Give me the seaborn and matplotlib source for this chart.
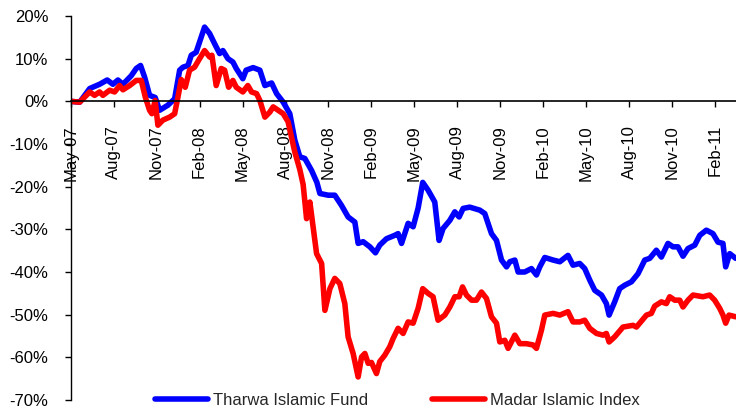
import matplotlib
matplotlib.use("Agg")
import matplotlib.pyplot as plt
import matplotlib.ticker as ticker
import seaborn as sns

# months counted from May-07, values in percent
fund_months = [0, 0.63, 1.33, 2.02, 2.55, 2.95, 3.30, 3.65, 4.23, 4.58, 4.88, 5.16, 5.51, 5.90,
               6.21, 6.79, 7.26, 7.61, 7.84, 8.19, 8.42, 8.76, 9.00, 9.35, 9.70, 10.05, 10.40,
               10.63, 10.98, 11.33, 11.56, 12.02, 12.25, 12.74, 13.21, 13.56, 14.03, 14.38,
               14.84, 15.30, 15.65, 16.00, 16.35, 16.82, 17.19, 17.40, 17.98, 18.44, 18.91,
               19.37, 19.84, 20.07, 20.42, 20.89, 21.28, 21.58, 22.05, 22.63, 22.86, 23.10,
               23.56, 23.91, 24.26, 24.58, 24.95, 25.42, 25.72, 26.00, 26.47, 26.82, 27.12,
               27.40, 27.86, 28.56, 28.91, 29.38, 29.73, 30.08, 30.43, 30.66, 31.01, 31.24,
               31.70, 32.17, 32.52, 32.75, 33.10, 33.68, 34.15, 34.72, 35.07, 35.54, 35.89,
               36.24, 36.59, 37.06, 37.40, 37.59, 37.98, 38.33, 38.68, 39.15, 39.61, 40.08,
               40.43, 40.89, 41.24, 41.70, 42.05, 42.40, 42.75, 43.10, 43.57, 43.92, 44.38,
               44.84, 45.19, 45.54, 45.73, 46.01, 46.43]
fund = [0, -0.2, 3, 4, 5, 4, 5, 4, 6, 7.7, 8.4, 5.7, 1.4, 0.9,
        -2.1, -0.9, 0.6, 7.3, 8, 8.4, 10.8, 11.5, 13.9, 17.4, 15.9, 13.5, 11.2,
        11.9, 10, 9.2, 7.7, 5.3, 7.3, 7.9, 7.3, 3.7, 4.3, 1.8,
        -0.2, -2.9, -9.1, -13, -13.4, -16.2, -19, -21.6, -22, -22, -24.4,
        -27.1, -28.3, -33.3, -32.9, -34.1, -35.5, -33.7, -32.2, -31.4, -31, -33.3,
        -28.6, -29.4, -25, -19, -20.8, -23.6, -32.6, -29.8, -27.9, -25.9, -27.1,
        -25.1, -24.8, -25.5, -26.3, -31, -32.6, -37.2, -38.8, -37.6, -37.2, -40,
        -40, -39.2, -40.7, -38.8, -36.6, -37.2, -37.6, -36.1, -38.4, -38, -39.2,
        -41.9, -44.3, -45.4, -47.4, -50.1, -47, -43.9, -43.1, -42.3, -40.4, -37.2,
        -36.8, -34.9, -36.5, -33.3, -34.1, -34.1, -36.3, -34.5, -33.7, -31.4, -30.2,
        -31, -33, -33.3, -38.8, -35.7, -36.8]

index_months = [0, 0.63, 1.33, 1.67, 2.02, 2.25, 2.72, 3.07, 3.42, 3.65, 4.12, 4.58, 4.93, 5.21,
                5.51, 5.67, 5.90, 6.09, 6.44, 6.91, 7.26, 7.49, 7.72, 8.00, 8.30, 8.65, 9.00,
                9.35, 9.70, 9.86, 10.16, 10.51, 10.75, 11.03, 11.33, 11.56, 12.02, 12.37, 12.63,
                12.98, 13.21, 13.56, 13.91, 14.14, 14.49, 14.84, 15.18, 15.42, 15.65, 16.00,
                16.23, 16.47, 16.70, 17.17, 17.52, 17.75, 18.10, 18.44, 18.79, 19.14, 19.37,
                19.72, 20.07, 20.31, 20.54, 20.77, 21.00, 21.35, 21.58, 21.93, 22.28, 22.51,
                22.86, 23.21, 23.56, 23.91, 24.26, 24.58, 24.95, 25.30, 25.65, 26.12, 26.47,
                26.82, 27.12, 27.36, 27.63, 27.99, 28.33, 28.68, 29.03, 29.38, 29.73, 29.96,
                30.31, 30.54, 31.01, 31.36, 31.82, 32.28, 32.52, 32.87, 33.10, 33.68, 34.15,
                34.72, 35.07, 35.54, 35.89, 36.24, 36.71, 37.17, 37.40, 37.59, 37.98, 38.56,
                39.26, 39.50, 40.20, 40.54, 40.77, 41.24, 41.59, 41.82, 42.17, 42.52, 42.75,
                43.10, 43.45, 44.14, 44.61, 44.96, 45.31, 45.54, 45.73, 45.96, 46.43]
index_vals = [0, -0.2, 2.2, 1.4, 2.2, 1.4, 2.6, 2.2, 3.7, 2.7, 3.7, 4.9, 4.9, 1,
              -2.1, -2.9, 0.2, -5.6, -4.4, -3.7, -2.9, 1, 5.1, 3.3, 7.3, 8, 10,
              11.9, 10.4, 10.8, 3.7, 7.7, 7.3, 3.3, 4.9, 3.3, 2.2, 3.7, 2.2,
              1.8, 0.2, -3.7, -2.5, -1.3, -2.1, -2.9, -4.8, -8.4, -11.9, -16,
              -19.5, -27.5, -23.6, -35.7, -38, -49, -43.9, -41.5, -42.7, -47.4, -55.2,
              -59.1, -64.6, -59.9, -59.1, -61.4, -61.2, -63.8, -61, -59.5, -57.5, -55.6,
              -53.2, -54.4, -51.7, -52, -48.5, -43.9, -45, -45.8, -51.3, -50.1, -48.2,
              -45.8, -45.8, -43.5, -45.4, -46.6, -46.6, -44.7, -46.2, -50.5, -52, -56.4,
              -56, -57.9, -54.8, -56.8, -56.8, -57.1, -57.9, -53.6, -50.1, -49.7, -50.1,
              -49.3, -51.7, -51.7, -51.3, -53.2, -54.4, -54.8, -54.4, -56.4, -55.2, -52.9,
              -52.5, -52.9, -50.1, -49.7, -48, -47, -47.4, -45.8, -46.6, -46.6, -48.2,
              -46.6, -45.4, -45.8, -45.4, -46.6, -48.5, -50.1, -52, -50.1, -50.5]

tick_months = [0, 3, 6, 9, 12, 15, 18, 21, 24, 27, 30, 33, 36, 39, 42, 45]
tick_labels = ["May-07", "Aug-07", "Nov-07", "Feb-08", "May-08", "Aug-08", "Nov-08", "Feb-09",
               "May-09", "Aug-09", "Nov-09", "Feb-10", "May-10", "Aug-10", "Nov-10", "Feb-11"]
y_ticks = [20, 10, 0, -10, -20, -30, -40, -50, -60, -70]

sns.set_style("white")
plt.rcParams['font.family'] = ['Liberation Sans', 'DejaVu Sans']

fig = plt.figure(figsize=(7.36, 4.07), dpi=100)
ax = fig.add_axes([0.096, 0.0172, 0.904, 0.9435])

sns.lineplot(x=fund_months, y=fund, color='#0000FF', linewidth=4,
             label='Tharwa Islamic Fund', ax=ax)
sns.lineplot(x=index_months, y=index_vals, color='#FF0000', linewidth=4,
             label='Madar Islamic Index', ax=ax)

ax.set_xlim(0, 46.45)
ax.set_ylim(-70, 20)
ax.set_xlabel('')
ax.set_ylabel('')

ax.spines['top'].set_visible(False)
ax.spines['right'].set_visible(False)
ax.spines['left'].set_color('black')
ax.spines['left'].set_linewidth(1)
ax.spines['bottom'].set_position(('data', 0))
ax.spines['bottom'].set_color('black')
ax.spines['bottom'].set_linewidth(1.2)

ax.set_xticks(tick_months)
ax.set_xticklabels(tick_labels, rotation=90, fontsize=12)
ax.set_yticks(y_ticks)
ax.yaxis.set_major_formatter(ticker.FuncFormatter(lambda v, p: f"{int(round(v))}%"))
ax.tick_params(axis='x', direction='out', length=4, width=1, color='black', pad=13, labelcolor='black')
ax.tick_params(axis='y', direction='out', length=4, width=1, color='black', pad=12,
               labelsize=12, labelcolor='black')
ax.tick_params(left=True, bottom=True)

handles, labels = ax.get_legend_handles_labels()
ax.get_legend().remove()
fig.legend(handles, labels, loc='center left', bbox_to_anchor=(0.2106, 0.017),
           bbox_transform=fig.transFigure, ncol=2, frameon=False, fontsize=12,
           handlelength=3.2, handletextpad=0.3, columnspacing=3.8,
           borderpad=0, borderaxespad=0)

fig.savefig("out.png", dpi=100)
